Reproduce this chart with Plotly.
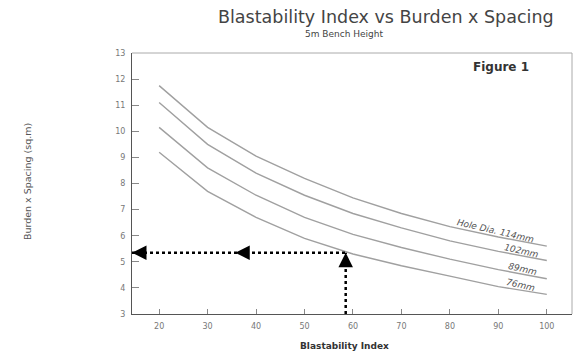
import numpy as np
import plotly.graph_objects as go

# ---- data ----
blastability = [20, 30, 40, 50, 60, 70, 80, 90, 100]
bs_114mm = [11.75, 10.15, 9.05, 8.2, 7.45, 6.85, 6.35, 5.95, 5.6]
bs_102mm = [11.1, 9.5, 8.4, 7.55, 6.85, 6.3, 5.8, 5.4, 5.05]
bs_89mm = [10.15, 8.6, 7.55, 6.7, 6.05, 5.55, 5.1, 4.7, 4.35]
bs_76mm = [9.2, 7.7, 6.7, 5.9, 5.3, 4.85, 4.45, 4.05, 3.75]
series_names = ["Hole Dia. 114mm", "102mm", "89mm", "76mm"]
label_x = [89.5, 94.8, 95.0, 94.6]

# worked example (dotted arrows)
example_bi = 58.5
example_bs = 5.35
example_mid_bi = 35.7

x_ticks = [20, 30, 40, 50, 60, 70, 80, 90, 100]
y_ticks = [3, 4, 5, 6, 7, 8, 9, 10, 11, 12, 13]

series = [bs_114mm, bs_102mm, bs_89mm, bs_76mm]

fig = go.Figure()
for name, vals in zip(series_names, series):
    fig.add_trace(go.Scatter(x=blastability, y=vals, mode="lines", name=name,
                             line=dict(color="#a0a0a0", width=1.4), showlegend=False))

fig.update_layout(
    width=578, height=351,
    margin=dict(l=132, r=6, t=53, b=37),
    paper_bgcolor="white", plot_bgcolor="white",
    font=dict(family="DejaVu Sans", color="#444"),
)
fig.update_xaxes(range=[14.4, 105.2], tickvals=x_ticks, ticktext=[str(v) for v in x_ticks],
                 showgrid=False, zeroline=False, showline=True, linecolor="#555", linewidth=1,
                 ticks="inside", ticklen=5, tickcolor="#888",
                 tickfont=dict(size=8, color="#777"), ticklabelstandoff=4)
fig.update_yaxes(range=[3, 13], tickvals=y_ticks, ticktext=[str(v) for v in y_ticks],
                 showgrid=False, zeroline=False, showline=True, linecolor="#555", linewidth=1,
                 ticks="inside", ticklen=7, tickcolor="#888",
                 tickfont=dict(size=8, color="#777"), ticklabelstandoff=4)

# top/right frame
fig.add_shape(type="line", xref="paper", yref="paper", x0=0, x1=1, y0=1, y1=1,
              line=dict(color="#aaa", width=1))
fig.add_shape(type="line", xref="paper", yref="paper", x0=1, x1=1, y0=0, y1=1,
              line=dict(color="#aaa", width=1))

# dotted example lines
fig.add_shape(type="line", x0=14.4, x1=example_bi, y0=example_bs, y1=example_bs,
              line=dict(color="black", width=2.5, dash="3px,3px"))
fig.add_shape(type="line", x0=example_bi, x1=example_bi, y0=3, y1=example_bs,
              line=dict(color="black", width=2.5, dash="3px,3px"))

arrow_common = dict(showarrow=True, arrowhead=2, arrowwidth=2, arrowsize=1.45,
                    arrowcolor="black", text="", standoff=0)
fig.add_annotation(x=14.4, y=example_bs, ax=12, ay=0, **arrow_common)
fig.add_annotation(x=example_mid_bi, y=example_bs, ax=12, ay=0, **arrow_common)
fig.add_annotation(x=example_bi, y=example_bs, ax=0, ay=12, **arrow_common)

# curve labels
for name, vals, lx in zip(series_names, series, label_x):
    ly = float(np.interp(lx, blastability, vals))
    fig.add_annotation(x=lx, y=ly, text="<i>" + name + "</i>", showarrow=False,
                       textangle=13, yshift=5, xanchor="center",
                       font=dict(size=9, color="#555"))

# titles
fig.add_annotation(xref="paper", yref="paper", x=0.577, y=1.138, text="Blastability Index vs Burden x Spacing",
                   showarrow=False, font=dict(size=17.5, color="#444"), xanchor="center", yanchor="middle")
fig.add_annotation(xref="paper", yref="paper", x=0.484, y=1.072, text="5m Bench Height",
                   showarrow=False, font=dict(size=9, color="#444"), xanchor="center", yanchor="middle")
fig.add_annotation(xref="paper", yref="paper", x=0.839, y=0.946, text="<b>Figure 1</b>",
                   showarrow=False, font=dict(size=12, color="#333"), xanchor="center", yanchor="middle")
fig.add_annotation(xref="paper", yref="paper", x=-0.236, y=0.506, text="Burden x Spacing (sq.m)",
                   showarrow=False, textangle=-90, font=dict(size=9.5, color="#555"),
                   xanchor="center", yanchor="middle")
fig.add_annotation(xref="paper", yref="paper", x=0.482, y=-0.123, text="<b>Blastability Index</b>",
                   showarrow=False, font=dict(size=9, color="#333"), xanchor="center", yanchor="middle")

fig.write_html("out.html", post_script="document.body.style.margin='0';",
               config={"displayModeBar": False})
